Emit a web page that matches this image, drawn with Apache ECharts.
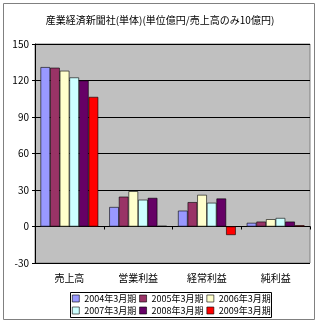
<!DOCTYPE html>
<html><head><meta charset="utf-8">
<script src="https://cdn.jsdelivr.net/npm/echarts@6/dist/echarts.min.js"></script>
<style>html,body{margin:0;padding:0;background:#fff}#c{width:320px;height:324px}</style>
</head><body><div id="c"></div>
<script>
var categories = ['売上高', '営業利益', '経常利益', '純利益'];
var seriesNames = ['2004年3月期', '2005年3月期', '2006年3月期', '2007年3月期', '2008年3月期', '2009年3月期'];
var s2004 = [131, 16, 13, 3];
var s2005 = [130.5, 24.5, 20, 4];
var s2006 = [128, 29, 26, 6];
var s2007 = [122.5, 22, 19.5, 7];
var s2008 = [120, 23.5, 23, 4];
var s2009 = [106.5, 0.5, -7, 1];
var yTicks = [-30, 0, 30, 60, 90, 120, 150];
var colors = ['#9999FF', '#993366', '#FFFFCC', '#CCFFFF', '#660066', '#FF0000'];
var allData = [s2004, s2005, s2006, s2007, s2008, s2009];
var font = '"Noto Sans CJK JP", sans-serif';

var chart = echarts.init(document.getElementById('c'), null, {renderer: 'canvas'});
var series = allData.map(function (d, i) {
  return {
    name: seriesNames[i], type: 'bar', data: d, xAxisIndex: 0,
    barGap: '0%', barCategoryGap: '16%',
    itemStyle: {color: colors[i], borderColor: '#000', borderWidth: 0.6}
  };
});
function legendRow(names, top) {
  return {data: names, left: 72, top: top, itemWidth: 7, itemHeight: 7, itemGap: 3,
    icon: 'rect', padding: 0,
    itemStyle: {borderColor: '#000', borderWidth: 0.6},
    textStyle: {fontSize: 9, color: '#000', fontFamily: font}};
}
chart.setOption({
  animation: false,
  backgroundColor: '#fff',
  textStyle: {fontFamily: font},
  title: {
    text: '産業経済新聞社(単体)(単位億円/売上高のみ10億円)',
    left: 'center', top: 10,
    textStyle: {fontSize: 10, fontWeight: 'normal', color: '#000', fontFamily: font}
  },
  graphic: [
    {type: 'rect', shape: {x: 3.5, y: 3.5, width: 311, height: 316}, style: {fill: null, stroke: '#808080', lineWidth: 1}, z: -1},
    {type: 'rect', shape: {x: 70.5, y: 292.5, width: 201, height: 25}, style: {fill: null, stroke: '#000', lineWidth: 1}, z: 10}
  ],
  legend: [legendRow(seriesNames.slice(0, 3), 294), legendRow(seriesNames.slice(3, 6), 306)],
  grid: {left: 35, right: 10, top: 44, bottom: 61, show: true, backgroundColor: '#C0C0C0', borderColor: '#808080', borderWidth: 1},
  xAxis: [
    {type: 'category', data: categories, position: 'bottom',
     axisLine: {show: false, onZero: false}, axisTick: {show: false},
     axisLabel: {fontSize: 10, color: '#000', margin: 10, fontFamily: font}},
    {type: 'category', data: categories, position: 'bottom',
     axisLine: {show: true, onZero: true, lineStyle: {color: '#000', width: 1}},
     axisTick: {show: true, length: 3, lineStyle: {color: '#000'}},
     axisLabel: {show: false}}
  ],
  yAxis: {
    type: 'value', min: yTicks[0], max: yTicks[yTicks.length - 1], interval: 30,
    axisLine: {show: true, lineStyle: {color: '#000'}},
    axisTick: {show: true, length: 3, inside: false, lineStyle: {color: '#000'}},
    axisLabel: {fontSize: 10, color: '#000', margin: 6, fontFamily: font},
    splitLine: {show: true, lineStyle: {color: '#000', width: 1}}
  },
  series: series
});
</script></body></html>
